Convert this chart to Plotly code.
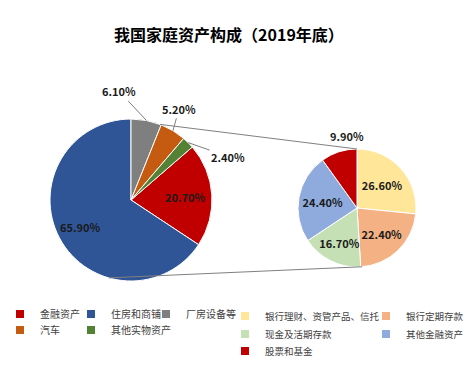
import math
import plotly.graph_objects as go

# ---------------- data ----------------
title_text = "我国家庭资产构成（2019年底）"
main_labels = ["金融资产", "住房和商铺", "厂房设备等", "汽车", "其他实物资产"]
main_values = [20.7, 65.9, 6.1, 5.2, 2.4]
sub_labels = ["银行理财、资管产品、信托", "银行定期存款", "现金及活期存款", "其他金融资产", "股票和基金"]
sub_values = [26.6, 22.4, 16.7, 24.4, 9.9]

# ---------------- style ----------------
W, H = 469, 376
FONT = "Microsoft YaHei, Noto Sans CJK SC, sans-serif"
main_colors = ["#C00000", "#2F5597", "#7F7F7F", "#C55A11", "#548235"]
sub_colors = ["#FFE699", "#F4B183", "#C5E0B4", "#8FAADC", "#C00000"]
BIG = dict(cx=131, cy=200, r=81)
SMALL = dict(cx=357, cy=208, r=59)
big_in_radius = {0: 0.67, 1: 0.71}          # inside labels: fraction of radius
big_out_offsets = {2: (-27, -29), 3: (6, -22), 4: (40, 14)}
small_out_shift = {4: (8, -16)}
LINE_COLOR = "#7F7F7F"
LABEL_FONT = dict(family=FONT, size=11, color="#1a1a1a", weight="bold")
main_leg_pos = [(20, 314), (91, 314), (166, 314), (20, 330), (91, 330)]
sub_leg_pos = [(245, 316), (386, 316), (245, 334), (386, 334), (245, 351)]
SYM_OFF = 20


def domain(g):
    return dict(x=[(g["cx"] - g["r"]) / W, (g["cx"] + g["r"]) / W],
                y=[(H - g["cy"] - g["r"]) / H, (H - g["cy"] + g["r"]) / H])


def edge_point(g, ang_deg, rr=1.0):
    a = math.radians(ang_deg)
    x = g["cx"] + g["r"] * rr * math.sin(a)
    y = g["cy"] - g["r"] * rr * math.cos(a)
    return x / W, (H - y) / H


def mid_angles(values, rotation):
    tot = sum(values)
    out, cum = [], rotation
    for v in values:
        ang = 360 * v / tot
        out.append(cum + ang / 2)
        cum += ang
    return out


main_total = sum(main_values)
main_rotation = 360 * sum(main_values[2:]) / main_total

fig = go.Figure()

fig.add_trace(go.Pie(
    labels=main_labels, values=main_values, sort=False, direction="clockwise",
    rotation=main_rotation, domain=domain(BIG),
    marker=dict(colors=main_colors, line=dict(color="white", width=1)),
    textinfo="none", showlegend=False, hoverinfo="label+value",
))

fig.add_trace(go.Pie(
    labels=sub_labels, values=sub_values, sort=False, direction="clockwise",
    rotation=0, domain=domain(SMALL),
    marker=dict(colors=sub_colors, line=dict(color="white", width=1)),
    texttemplate="%{value:.2f}%",
    textposition=["inside", "inside", "inside", "inside", "none"],
    insidetextorientation="horizontal",
    textfont=LABEL_FONT, showlegend=False, hoverinfo="label+value",
))

legend_layouts = {}
k = 0
for labs, cols, poss, fsize in [(main_labels, main_colors, main_leg_pos, 10),
                                (sub_labels, sub_colors, sub_leg_pos, 9.5)]:
    for lab, col, (sx, sy) in zip(labs, cols, poss):
        k += 1
        lname = "legend" if k == 1 else f"legend{k}"
        fig.add_trace(go.Scatter(x=[None], y=[None], mode="markers", name=lab,
                                 marker=dict(symbol="square", size=8, color=col),
                                 legend=lname, hoverinfo="skip"))
        legend_layouts[lname] = dict(
            x=(sx - SYM_OFF) / W, y=1 - sy / H, xanchor="left", yanchor="middle",
            orientation="v", itemwidth=30, bgcolor="rgba(0,0,0,0)", borderwidth=0,
            font=dict(family=FONT, size=fsize, color="#404040"))

annotations = []
angs = mid_angles(main_values, main_rotation)
for i, rr in big_in_radius.items():
    px, py = edge_point(BIG, angs[i], rr)
    annotations.append(dict(x=px, y=py, xref="paper", yref="paper",
                            xanchor="center", yanchor="middle",
                            text=f"{main_values[i]:.2f}%", showarrow=False, font=LABEL_FONT))
for i, (dx, dy) in big_out_offsets.items():
    px, py = edge_point(BIG, angs[i])
    annotations.append(dict(x=px, y=py, xref="paper", yref="paper",
                            text=f"{main_values[i]:.2f}%", showarrow=True,
                            arrowhead=0, arrowwidth=1, arrowcolor=LINE_COLOR,
                            ax=dx, ay=dy, standoff=0, font=LABEL_FONT))
sangs = mid_angles(sub_values, 0)
for i, (dx, dy) in small_out_shift.items():
    px, py = edge_point(SMALL, sangs[i])
    annotations.append(dict(x=px, y=py, xref="paper", yref="paper",
                            xanchor="center", yanchor="middle",
                            text=f"{sub_values[i]:.2f}%", showarrow=False,
                            xshift=dx, yshift=-dy, font=LABEL_FONT))

shapes = []
for a_big, a_small in [(21, 0), (196, 175)]:
    x0, y0 = edge_point(BIG, a_big)
    x1, y1 = edge_point(SMALL, a_small)
    shapes.append(dict(type="line", xref="paper", yref="paper", x0=x0, y0=y0, x1=x1, y1=y1,
                       line=dict(color=LINE_COLOR, width=1)))

fig.update_layout(
    width=W, height=H, margin=dict(l=0, r=0, t=0, b=0),
    paper_bgcolor="white", plot_bgcolor="white",
    title=dict(text=title_text, x=229 / W, xanchor="center", y=1 - 35 / H, yanchor="middle",
               font=dict(family=FONT, size=16, color="#000000", weight="bold")),
    xaxis=dict(visible=False), yaxis=dict(visible=False),
    uniformtext=dict(minsize=11, mode="show"),
    annotations=annotations, shapes=shapes,
    **legend_layouts,
)

fig.write_html("out.html", config={"displayModeBar": False},
               post_script="document.body.style.margin='0';")
